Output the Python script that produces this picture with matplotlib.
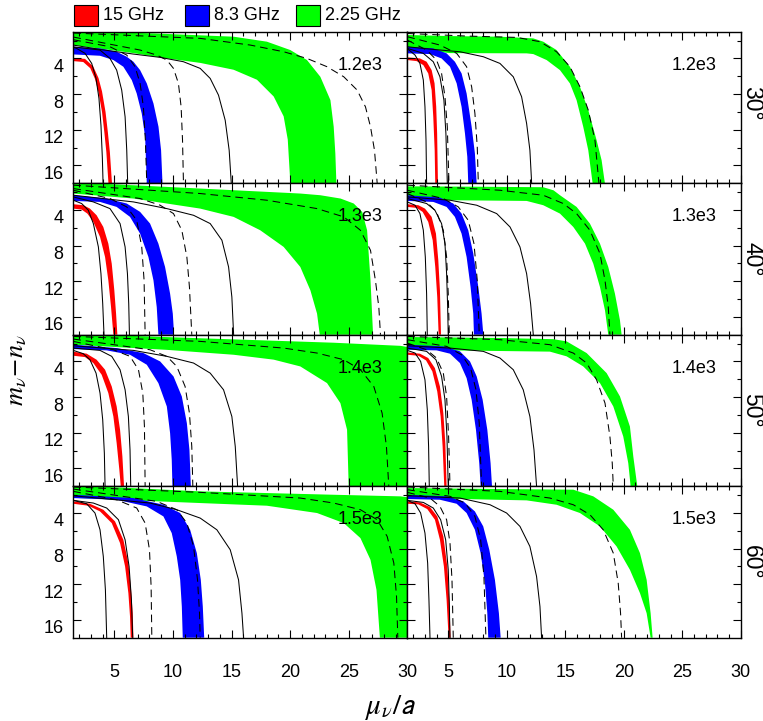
import matplotlib
matplotlib.use('Agg')
import matplotlib.pyplot as plt
from matplotlib.ticker import MultipleLocator, FixedLocator
from matplotlib.patches import Rectangle
import matplotlib.transforms as mtransforms

plt.rcParams['font.family'] = ['Liberation Sans', 'DejaVu Sans']
plt.rcParams['mathtext.fontset'] = 'stix'
plt.rcParams['lines.scale_dashes'] = False

FREQS = ['15 GHz', '8.3 GHz', '2.25 GHz']
COLORS = ['#ff0000', '#0000ff', '#00ff00']
ANGLES = ['30°', '40°', '50°', '60°']
SCALES = ['1.2e3', '1.3e3', '1.4e3', '1.5e3']

# panel order: row0-left, row0-right, row1-left, row1-right, ... (x = mu/a, y = m-n)
RED_OUTER = [
    [(1.5,3.95),(2.5,4.05),(3.2,4.9),(3.65,6.2),(3.95,7.7),(4.25,10.0),(4.45,12.3),(4.62,14.5),(4.8,18)],
    [(1.5,3.88),(2.58,4.0),(3.15,4.37),(3.58,5.31),(3.83,6.8),(3.97,9.4),(4.05,12.4),(4.12,18)],
    [(1.5,3.36),(2.35,3.47),(2.92,3.85),(3.49,4.6),(4.06,5.91),(4.49,7.78),(4.78,10.03),(5.0,13.02),(5.15,15.64),(5.26,18)],
    [(1.5,3.36),(2.44,3.47),(3.01,3.85),(3.58,4.78),(3.95,6.66),(4.15,9.65),(4.29,13.02),(4.38,18)],
    [(1.5,2.91),(2.64,3.13),(3.49,3.81),(4.21,4.93),(4.78,6.81),(5.2,9.05),(5.49,11.67),(5.69,14.67),(5.83,18)],
    [(1.5,2.99),(2.58,3.13),(3.29,3.62),(3.86,4.75),(4.29,6.81),(4.58,9.8),(4.75,13.17),(4.86,18)],
    [(1.5,2.7),(2.92,2.97),(4.06,3.64),(5.06,4.95),(5.77,7.01),(6.2,9.63),(6.43,12.63),(6.57,15.25),(6.63,18)],
    [(1.5,2.7),(2.58,2.82),(3.44,3.34),(4.06,4.39),(4.58,6.63),(4.92,10.01),(5.09,13.75),(5.2,18)],
]
RED_INNER = [
    [(1.5,4.3),(2.35,4.4),(2.95,5.1),(3.35,6.3),(3.65,7.8),(3.95,10.0),(4.15,12.3),(4.32,14.5),(4.5,18)],
    [(1.5,4.18),(2.3,4.3),(2.87,4.75),(3.29,5.68),(3.58,7.55),(3.72,10.55),(3.84,14.3),(3.89,18)],
    [(1.5,3.85),(2.21,3.96),(2.7,4.41),(3.21,5.34),(3.78,7.03),(4.21,9.28),(4.49,11.9),(4.72,14.9),(4.92,18)],
    [(1.5,3.66),(2.3,3.77),(2.81,4.22),(3.29,5.34),(3.67,7.4),(3.89,10.4),(4.06,13.77),(4.18,18)],
    [(1.5,3.36),(2.5,3.51),(3.21,4.18),(3.92,5.49),(4.49,7.55),(4.92,10.18),(5.2,13.17),(5.43,16.17),(5.55,18)],
    [(1.5,3.25),(2.44,3.36),(3.1,3.88),(3.64,5.12),(4.06,7.37),(4.35,10.18),(4.52,13.55),(4.66,18)],
    [(1.5,2.97),(2.78,3.19),(3.78,3.83),(4.78,5.14),(5.49,7.39),(5.92,10.01),(6.2,13.0),(6.34,15.63),(6.4,18)],
    [(1.5,2.97),(2.44,3.04),(3.21,3.57),(3.86,4.76),(4.29,7.01),(4.63,10.01),(4.86,13.75),(5.03,18)],
]
BLUE_OUTER = [
    [(1.5,2.69),(3.78,2.87),(5.2,3.25),(6.06,3.81),(6.63,4.37),(7.2,5.31),(7.77,6.8),(8.34,9.05),(8.77,11.67),(8.99,14.3),(9.11,18)],
    [(1.5,2.69),(3.72,2.87),(4.86,3.43),(5.57,4.37),(6.14,5.68),(6.57,7.93),(7.0,11.67),(7.28,14.67),(7.43,18)],
    [(1.5,2.35),(4.35,2.72),(6.06,3.28),(7.2,4.22),(8.05,5.53),(8.76,7.78),(9.33,10.4),(9.76,13.4),(9.99,15.64),(10.1,18)],
    [(1.5,2.35),(4.29,2.61),(5.43,3.28),(6.14,4.41),(6.71,6.28),(7.14,8.9),(7.57,12.65),(7.85,15.64),(8.0,18)],
    [(1.5,2.12),(5.2,2.5),(7.48,3.06),(8.91,4.0),(10.05,5.68),(10.76,7.93),(11.19,10.93),(11.41,13.92),(11.53,18)],
    [(1.5,2.12),(4.58,2.31),(6.0,2.87),(6.86,4.0),(7.43,5.68),(7.94,8.3),(8.34,11.67),(8.62,15.42),(8.74,18)],
    [(1.5,1.96),(6.63,2.33),(9.19,3.08),(10.62,4.01),(11.47,5.89),(12.04,8.51),(12.38,11.51),(12.55,14.5),(12.67,18)],
    [(1.5,1.96),(4.86,2.14),(6.29,2.7),(7.28,3.83),(7.99,5.51),(8.51,8.13),(8.99,11.51),(9.33,15.25),(9.48,18)],
]
BLUE_INNER = [
    [(1.5,3.55),(3.78,3.7),(4.92,4.18),(5.77,4.93),(6.49,6.43),(6.91,7.93),(7.34,10.18),(7.63,12.8),(7.77,18)],
    [(1.5,3.43),(3.44,3.51),(4.43,4.0),(5.15,4.93),(5.72,6.8),(6.14,9.43),(6.43,12.42),(6.63,15.04),(6.71,18)],
    [(1.5,2.99),(3.78,3.1),(5.2,3.66),(6.34,4.78),(7.2,6.66),(7.91,9.28),(8.34,11.9),(8.62,14.9),(8.76,18)],
    [(1.5,2.99),(3.72,3.1),(4.86,3.66),(5.57,4.78),(6.14,6.66),(6.57,9.28),(6.91,12.65),(7.14,15.64),(7.2,18)],
    [(1.5,2.61),(4.35,2.76),(6.34,3.25),(7.77,4.37),(8.76,6.43),(9.48,9.05),(9.76,12.05),(9.9,15.04),(9.96,18)],
    [(1.5,2.69),(4.01,2.76),(5.15,3.13),(6.0,4.18),(6.57,5.87),(7.0,8.3),(7.37,11.67),(7.65,15.42),(7.77,18)],
    [(1.5,2.33),(5.2,2.52),(7.77,3.27),(9.19,4.39),(9.9,6.26),(10.33,8.88),(10.62,11.51),(10.76,14.5),(10.84,18)],
    [(1.5,2.44),(4.29,2.52),(5.72,2.97),(6.57,4.01),(7.28,5.89),(7.77,8.51),(8.14,11.88),(8.34,15.25),(8.42,18)],
]
GREEN_OUTER = [
    [(1.5,0.9),(8.5,1.2),(15.18,1.56),(18.02,2.12),(20.02,3.06),(21.44,4.18),(22.58,6.06),(23.44,8.68),(23.72,11.67),(23.86,14.67),(23.95,18)],
    [(1.5,1.37),(5.15,1.49),(9.42,1.56),(12.27,1.75),(13.12,2.12),(14.26,3.06),(15.4,4.93),(16.26,7.18),(16.97,9.8),(17.68,13.17),(18.11,15.42),(18.39,18)],
    [(1.5,0.9),(12.33,1.6),(20.87,2.16),(22.58,2.35),(24.3,2.72),(25.43,3.28),(26.15,4.22),(26.57,6.28),(26.86,11.9),(27.08,18)],
    [(1.5,1.35),(8.0,1.4),(13.12,1.45),(14.0,1.8),(14.55,2.35),(15.97,3.66),(17.11,5.53),(17.97,7.78),(18.68,10.4),(19.25,13.4),(19.68,16.39),(19.82,18)],
    [(1.5,0.9),(12.33,1.4),(23.72,1.9),(29.42,2.25),(31.0,2.6),(32.5,4.5),(33.5,18)],
    [(1.5,1.26),(9.42,1.37),(13.98,1.5),(15.12,1.75),(16.83,3.06),(18.54,5.31),(19.68,7.93),(20.53,11.3),(20.82,14.67),(21.16,18)],
    [(1.5,0.9),(12.33,1.58),(23.72,1.96),(29.42,2.14),(31.0,2.4),(33.0,4.0),(34.0,18)],
    [(1.5,1.21),(9.42,1.32),(15.69,1.39),(17.4,2.14),(19.11,3.64),(20.53,5.89),(21.39,8.51),(21.96,11.51),(22.3,15.25),(22.47,18)],
]
GREEN_INNER = [
    [(1.5,2.5),(3.78,2.9),(6.63,3.4),(9.2,3.95),(12.33,4.5),(15.18,5.27),(17.17,6.39),(18.6,8.27),(19.45,10.5),(19.8,13.1),(20.02,18)],
    [(1.5,2.7),(3.7,3.2),(5.15,3.4),(11.7,3.43),(12.27,3.51),(13.41,4.18),(14.55,5.31),(15.4,6.8),(15.97,8.68),(16.54,11.67),(16.97,14.3),(17.34,18)],
    [(1.5,2.16),(6.63,2.72),(9.48,3.28),(12.33,3.85),(15.18,4.78),(17.45,6.28),(19.45,8.15),(20.87,10.4),(21.73,13.02),(22.3,15.64),(22.53,18)],
    [(1.5,2.72),(5.15,2.91),(11.7,2.99),(13.12,3.47),(14.55,4.41),(15.69,5.91),(16.69,7.78),(17.4,10.03),(17.97,12.65),(18.4,15.27),(18.68,18)],
    [(1.5,2.12),(9.48,2.7),(15.18,3.25),(18.6,3.8),(20.87,4.56),(23.15,6.43),(24.29,8.68),(24.86,11.67),(25.0,18)],
    [(1.5,2.6),(5.15,2.76),(13.69,2.9),(15.12,3.43),(16.54,4.56),(17.97,6.43),(19.11,9.05),(19.96,12.42),(20.39,15.42),(20.59,18)],
    [(1.5,2.3),(6.63,2.59),(12.33,2.89),(18.02,3.19),(22.3,4.01),(24.58,5.14),(26.0,6.82),(26.86,9.26),(27.37,12.63),(27.66,18)],
    [(1.5,2.4),(6.57,2.45),(11.7,2.59),(14.26,3.08),(16.26,4.01),(17.97,5.51),(19.39,7.76),(20.53,10.38),(21.39,13.0),(21.96,15.25),(22.3,18)],
]
SOLID_1 = [
    [(1.5,2.75),(1.78,2.87),(2.5,3.43),(3.07,4.56),(3.44,6.24),(3.69,8.49),(3.86,11.49),(3.98,15.2),(4.04,18)],
    [(1.5,2.9),(2.16,3.62),(2.58,4.56),(2.87,6.43),(3.01,9.43),(3.1,13.17),(3.15,18)],
    [(1.5,2.91),(2.21,3.28),(2.78,4.03),(3.21,5.53),(3.64,8.15),(3.86,11.15),(4.01,14.52),(4.12,18)],
    [(1.5,3.1),(2.16,3.47),(2.58,4.41),(2.87,6.28),(3.04,9.28),(3.15,13.4),(3.21,18)],
    [(1.5,2.76),(2.35,3.13),(2.92,3.81),(3.44,5.31),(3.78,7.55),(4.01,10.55),(4.15,14.3),(4.21,18)],
    [(1.5,2.76),(2.16,3.06),(2.64,4.0),(3.01,6.06),(3.21,9.43),(3.32,13.55),(3.38,18)],
    [(1.5,2.59),(2.64,2.97),(3.35,4.01),(3.78,5.89),(4.06,8.88),(4.24,12.63),(4.35,18)],
    [(1.5,2.59),(2.16,2.97),(2.64,4.01),(3.01,6.26),(3.24,9.63),(3.35,13.75),(3.44,18)],
]
SOLID_2 = [
    [(1.5,2.7),(3.78,3.06),(4.63,4.0),(5.2,5.31),(5.63,7.55),(5.92,10.55),(6.06,14.3),(6.14,18)],
    [(1.5,2.87),(2.87,3.43),(3.72,4.37),(4.29,6.06),(4.63,8.68),(4.8,12.42),(4.92,18)],
    [(1.5,2.54),(3.21,3.1),(4.63,3.85),(5.49,5.53),(5.92,8.15),(6.12,11.15),(6.23,14.52),(6.29,18)],
    [(1.5,2.72),(3.15,3.28),(3.86,4.03),(4.43,5.53),(4.72,7.78),(4.86,11.15),(4.95,14.9),(5.0,18)],
    [(1.5,2.5),(3.78,2.76),(4.78,3.43),(5.49,4.93),(5.92,7.18),(6.2,10.18),(6.34,13.92),(6.4,18)],
    [(1.5,2.5),(3.15,2.87),(3.95,3.81),(4.43,5.68),(4.72,8.3),(4.89,12.42),(5.0,18)],
    [(1.5,2.59),(3.21,2.89),(4.35,3.45),(5.35,4.76),(5.92,7.01),(6.26,10.01),(6.46,13.75),(6.57,18)],
    [(1.5,2.59),(2.87,2.82),(3.72,3.45),(4.35,4.76),(4.78,7.01),(5.0,10.38),(5.09,14.13),(5.15,18)],
]
SOLID_3 = [
    [(1.5,2.5),(3.78,2.99),(6.63,3.51),(8.91,3.88),(10.9,4.37),(12.33,5.12),(13.18,6.24),(13.89,8.12),(14.46,10.93),(14.8,14.3),(14.98,18)],
    [(1.5,2.69),(3.72,2.99),(6.0,3.25),(8.0,3.81),(9.42,4.56),(10.56,6.06),(11.27,8.3),(11.7,11.3),(11.98,14.3),(12.13,18)],
    [(1.5,2.35),(6.63,3.1),(9.48,3.85),(11.76,4.6),(13.18,5.53),(14.18,7.4),(14.75,10.4),(15.03,13.77),(15.18,18)],
    [(1.5,2.54),(5.15,2.91),(7.43,3.47),(9.14,4.41),(10.28,5.91),(11.13,8.15),(11.7,11.15),(12.04,14.52),(12.27,18)],
    [(1.5,2.24),(6.63,2.76),(9.48,3.43),(11.76,4.18),(13.18,5.31),(14.32,7.18),(15.03,10.18),(15.32,13.55),(15.52,18)],
    [(1.5,2.24),(5.15,2.5),(8.0,2.87),(9.42,3.62),(10.56,4.93),(11.41,7.18),(11.98,10.18),(12.33,13.92),(12.55,18)],
    [(1.5,2.07),(8.05,2.89),(10.33,3.64),(12.33,4.58),(13.75,5.89),(14.89,8.13),(15.6,11.51),(15.89,15.25),(16.03,18)],
    [(1.5,2.07),(6.0,2.33),(8.57,3.08),(9.99,4.01),(11.13,5.51),(11.98,7.76),(12.55,11.13),(12.84,14.5),(12.98,18)],
]
DASH_1 = [
    [(1.5,1.9),(4.63,2.69),(6.06,3.62),(6.77,4.93),(7.2,6.8),(7.48,9.43),(7.65,13.17),(7.77,18)],
    [(1.5,1.94),(3.15,3.06),(4.0,4.18),(4.43,5.68),(4.72,8.3),(4.92,11.67),(5.06,18)],
    [(1.5,1.79),(4.63,2.72),(6.06,3.66),(6.91,5.16),(7.34,8.15),(7.54,11.9),(7.63,18)],
    [(1.5,2.16),(3.15,3.1),(4.0,4.22),(4.58,6.28),(4.86,9.28),(5.0,13.4),(5.09,18)],
    [(1.5,1.75),(4.92,2.69),(6.34,3.43),(7.06,4.93),(7.43,7.55),(7.57,11.3),(7.63,18)],
    [(1.5,1.94),(3.15,2.69),(4.0,3.62),(4.58,5.31),(4.86,7.93),(5.03,12.42),(5.15,18)],
    [(1.5,1.58),(5.2,2.52),(6.91,3.45),(7.63,5.14),(8.0,8.13),(8.14,12.25),(8.2,18)],
    [(1.5,1.69),(3.44,2.33),(4.29,3.27),(4.86,4.76),(5.15,7.39),(5.32,11.51),(5.43,18)],
]
DASH_2 = [
    [(1.5,1.6),(7.2,3.06),(8.62,3.62),(9.48,4.18),(10.05,5.12),(10.47,6.8),(10.7,9.43),(10.82,13.17),(10.9,18)],
    [(1.5,1.56),(4.29,2.5),(5.72,3.43),(6.57,4.93),(7.0,7.18),(7.28,10.18),(7.48,13.92),(7.57,18)],
    [(1.5,1.6),(7.2,2.72),(8.91,3.47),(10.05,4.41),(10.76,6.28),(11.19,9.28),(11.41,12.65),(11.61,18)],
    [(1.5,1.79),(4.58,2.72),(5.86,3.66),(6.71,5.16),(7.2,7.78),(7.48,11.9),(7.65,18)],
    [(1.5,1.49),(8.05,2.69),(9.48,3.43),(10.33,4.56),(11.04,6.81),(11.41,9.8),(11.61,13.55),(11.7,18)],
    [(1.5,1.56),(4.86,2.31),(6.14,3.25),(6.91,4.75),(7.37,7.18),(7.65,10.93),(7.85,18)],
    [(1.5,1.32),(8.62,2.7),(10.33,3.64),(11.19,5.14),(11.76,7.76),(12.1,11.51),(12.27,15.25),(12.33,18)],
    [(1.5,1.39),(5.15,2.14),(6.43,2.89),(7.28,4.39),(7.77,7.01),(8.05,11.13),(8.22,18)],
]
DASH_3 = [
    [(1.5,1.15),(12.33,1.75),(16.6,2.5),(19.45,3.25),(21.44,4.0),(23.15,4.93),(24.58,6.06),(25.72,7.55),(26.43,9.43),(26.86,11.67),(27.2,14.3),(27.43,18)],
    [(1.5,1.2),(6.57,1.49),(10.85,1.64),(12.84,2.12),(14.26,3.25),(15.4,4.93),(16.26,7.18),(16.97,9.8),(17.54,13.17),(17.88,18)],
    [(1.5,1.22),(12.33,2.16),(18.02,2.91),(22.3,3.85),(24.58,4.78),(26.0,6.28),(26.86,8.53),(27.28,11.9),(27.57,14.9),(27.71,18)],
    [(1.5,1.22),(9.42,1.79),(13.12,2.35),(14.83,3.28),(15.97,4.41),(17.11,6.28),(17.97,8.9),(18.4,11.9),(18.68,14.9),(18.82,18)],
    [(1.5,1.19),(12.33,1.75),(19.45,2.5),(22.3,3.06),(24.58,3.81),(26.0,4.93),(27.14,6.81),(27.85,9.8),(28.22,13.55),(28.42,18)],
    [(1.5,1.19),(9.42,1.56),(13.69,2.12),(15.69,3.06),(16.83,4.18),(17.68,6.06),(18.4,8.68),(18.82,12.42),(19.02,15.42),(19.11,18)],
    [(1.5,1.09),(12.33,1.69),(20.87,2.33),(23.72,2.89),(26.0,3.64),(27.43,4.76),(28.28,6.63),(28.85,9.63),(29.08,13.38),(29.19,18)],
    [(1.5,1.09),(9.42,1.58),(13.69,2.33),(15.69,3.08),(17.11,4.2),(18.25,5.89),(19.11,8.51),(19.53,11.88),(19.73,15.25),(19.82,18)],
]

W, H = 763, 721
fig = plt.figure(figsize=(W / 100, H / 100), dpi=100)
COL_LEFT = [73.3, 407.3]
COL_W = [334.0, 333.4]
ROW_TOP0 = 31.7
ROW_H = 151.5
FS = 13

bands = [(GREEN_OUTER, GREEN_INNER, COLORS[2]),
         (BLUE_OUTER, BLUE_INNER, COLORS[1]),
         (RED_OUTER, RED_INNER, COLORS[0])]

for r in range(4):
    for c in range(2):
        i = 2 * r + c
        top = ROW_TOP0 + r * ROW_H
        ax = fig.add_axes([COL_LEFT[c] / W, 1 - (top + ROW_H) / H, COL_W[c] / W, ROW_H / H])
        ax.set_xlim(1.5, 30)
        ax.set_ylim(18, 1)
        for outer, inner, col in bands:
            pts = outer[i] + inner[i][::-1]
            ax.fill([p[0] for p in pts], [p[1] for p in pts], color=col, lw=0, zorder=1)
        for curves in (SOLID_1, SOLID_2, SOLID_3):
            ax.plot([p[0] for p in curves[i]], [p[1] for p in curves[i]], color='k', lw=0.75, zorder=3)
        for curves in (DASH_1, DASH_2, DASH_3):
            ax.plot([p[0] for p in curves[i]], [p[1] for p in curves[i]], color='k', lw=0.75,
                    dashes=(5.5, 3.5), zorder=3)
        ax.text(26, 4.75, SCALES[r], ha='center', va='center', fontsize=FS, zorder=4)
        ax.xaxis.set_major_locator(MultipleLocator(5))
        ax.xaxis.set_minor_locator(MultipleLocator(1))
        ax.yaxis.set_major_locator(FixedLocator([4, 8, 12, 16]))
        ax.yaxis.set_minor_locator(FixedLocator([2, 6, 10, 14]))
        ax.tick_params(which='both', direction='in', top=True, right=True, width=0.8,
                       labelsize=FS, colors='k')
        ax.tick_params(which='major', length=6)
        ax.tick_params(which='minor', length=3)
        ax.tick_params(axis='x', pad=19)
        ax.tick_params(axis='y', pad=7)
        for sp in ax.spines.values():
            sp.set_linewidth(1.0)
        if c == 1:
            ax.tick_params(labelleft=False)
            ax.text(1.0 + 11 / COL_W[c], 0.5 + 4 / ROW_H * (1 if r == 0 else 0), ANGLES[r],
                    transform=ax.transAxes, rotation=270, ha='center', va='center', fontsize=16.5)
        else:
            off = mtransforms.ScaledTranslation(0, -7 / 100, fig.dpi_scale_trans)
            for lab in ax.get_yticklabels():
                lab.set_transform(lab.get_transform() + off)
        if r < 3:
            ax.tick_params(labelbottom=False)

# legend row
LEG_X = [74, 185, 296]
for k in range(3):
    x0 = LEG_X[k]
    fig.patches.append(Rectangle((x0 / W, 1 - 26 / H), 24 / W, 21 / H, transform=fig.transFigure,
                                 facecolor=COLORS[k], edgecolor='k', lw=0.8))
    fig.text((x0 + 29) / W, 1 - 15.5 / H, FREQS[k], ha='left', va='center', fontsize=FS)

fig.text(17 / W, 1 - 370 / H, r'$m_\nu\!-\!n_\nu$', rotation=90, ha='center', va='center', fontsize=19)
fig.text(390 / W, 1 - 707 / H, r'$\mu_\nu/\mathsf{a}$', ha='center', va='center', fontsize=21)

fig.savefig('out.png', dpi=100)
